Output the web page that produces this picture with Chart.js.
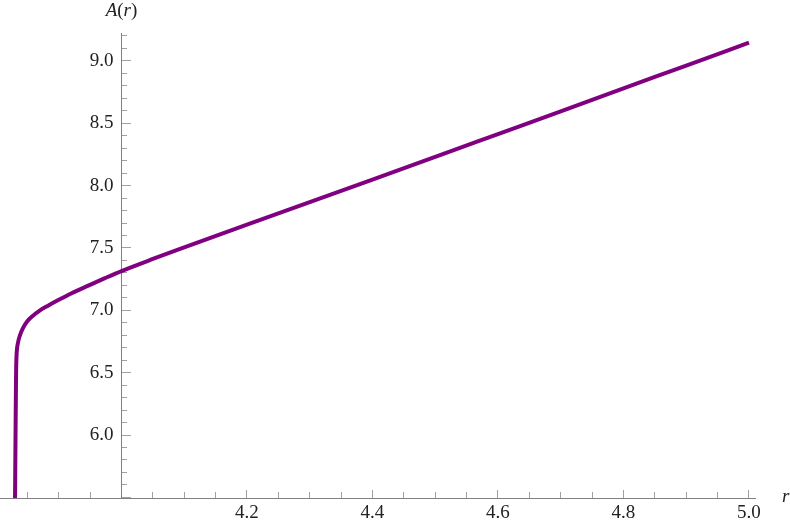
<!DOCTYPE html>
<html>
<head>
<meta charset="utf-8">
<script src="https://cdn.jsdelivr.net/npm/chart.js@4/dist/chart.umd.min.js"></script>
<style>
  html, body { margin: 0; padding: 0; background: #ffffff; }
  #wrap { width: 790px; height: 524px; }
</style>
</head>
<body>
<div id="wrap"><canvas id="c" width="790" height="524"></canvas></div>
<script>
// ---- data ----
const rValues = [3.8302, 3.8311, 3.8319, 3.8322, 3.8330, 3.8351, 3.8382, 3.8430, 3.8499, 3.8590,
                 3.8696, 3.8829, 3.8993, 3.9206, 3.9471, 3.9737, 4.0, 4.05, 4.1, 4.2,
                 4.3, 4.4, 4.5, 4.6, 4.7, 4.8, 4.9, 5.0];
const aValues = [5.40, 5.96, 6.44, 6.55, 6.66, 6.74, 6.80, 6.858, 6.912, 6.957,
                 6.998, 7.037, 7.082, 7.137, 7.198, 7.258, 7.315, 7.412, 7.505, 7.688,
                 7.868, 8.048, 8.230, 8.413, 8.596, 8.780, 8.963, 9.147];
const xRange = [3.8064, 5.0096];
const yRange = [5.495, 9.224];
const xMajorStep = 0.2, xMinorStep = 0.05;
const yMajorStep = 0.5, yMinorStep = 0.1;
const xAxisTitle = 'r';
const yAxisTitle = ['A', '(', 'r', ')'];

const serif = '"Liberation Serif", "Times New Roman", Times, serif';
const axisGray = '#808080';
const tickGray = '#a0a0a0';
const labelColor = '#222';
const fontSize = 19;

function zeroWidth(s) { s.width = 0; }
function zeroHeight(s) { s.height = 0; }

const titlePlugin = {
  id: 'axisTitles',
  afterDraw(chart) {
    const ctx = chart.ctx;
    const xs = chart.scales.x, ys = chart.scales.y;
    ctx.save();
    ctx.fillStyle = labelColor;
    ctx.textBaseline = 'middle';
    ctx.font = 'italic ' + fontSize + 'px ' + serif;
    ctx.textAlign = 'left';
    ctx.fillText(xAxisTitle, chart.chartArea.right + 27, ys.getPixelForValue(yRange[0]) - 1);
    const it = 'italic ' + fontSize + 'px ' + serif, up = fontSize + 'px ' + serif;
    const fonts = [it, up, it, up];
    let w = 0;
    const widths = yAxisTitle.map((t, i) => { ctx.font = fonts[i]; const m = ctx.measureText(t).width; w += m; return m; });
    let x = xs.getPixelForValue(4.0) - w / 2;
    const y = 11;
    yAxisTitle.forEach((t, i) => { ctx.font = fonts[i]; ctx.fillText(t, x, y); x += widths[i]; });
    ctx.restore();
  }
};

new Chart(document.getElementById('c'), {
  type: 'line',
  data: {
    datasets: [{
      data: rValues.map((r, i) => ({ x: r, y: aValues[i] })),
      borderColor: '#800080',
      borderWidth: 4,
      pointRadius: 0,
      fill: false,
      cubicInterpolationMode: 'monotone',
      clip: 0
    }]
  },
  options: {
    responsive: false,
    animation: false,
    events: [],
    layout: { padding: { left: 0, right: 35, top: 33, bottom: 26 } },
    plugins: { legend: { display: false }, tooltip: { enabled: false } },
    scales: {
      x: {
        type: 'linear', min: xRange[0], max: xRange[1],
        position: { y: yRange[0] },
        afterFit: zeroHeight,
        border: { display: true, color: axisGray, width: 1 },
        grid: { drawOnChartArea: false, drawTicks: true, tickLength: -9, color: tickGray },
        ticks: {
          stepSize: xMajorStep, includeBounds: false, autoSkip: false, maxRotation: 0,
          padding: 13, color: labelColor, font: { family: serif, size: fontSize },
          callback: (v) => Math.abs(v - 4.0) < 1e-6 ? '' : Number(v).toFixed(1)
        }
      },
      xMinor: {
        type: 'linear', axis: 'x', min: xRange[0], max: xRange[1],
        position: { y: yRange[0] },
        afterFit: zeroHeight,
        border: { display: false },
        grid: { drawOnChartArea: false, drawTicks: true, tickLength: -6, color: tickGray },
        ticks: { stepSize: xMinorStep, includeBounds: false, autoSkip: false, display: false }
      },
      y: {
        type: 'linear', min: yRange[0], max: yRange[1],
        position: { x: 4.0 },
        afterFit: zeroWidth,
        border: { display: true, color: axisGray, width: 1 },
        grid: { drawOnChartArea: false, drawTicks: true, tickLength: -10, color: tickGray },
        ticks: { stepSize: yMajorStep, includeBounds: false, autoSkip: false, display: false }
      },
      yMinor: {
        type: 'linear', axis: 'y', min: yRange[0], max: yRange[1],
        position: { x: 4.0 },
        afterFit: zeroWidth,
        border: { display: false },
        grid: { drawOnChartArea: false, drawTicks: true, tickLength: -6, color: tickGray },
        ticks: { stepSize: yMinorStep, includeBounds: false, autoSkip: false, display: false }
      },
      yLabels: {
        type: 'linear', axis: 'y', min: yRange[0], max: yRange[1],
        position: { x: 3.98725 },
        afterFit: zeroWidth,
        border: { display: false },
        grid: { display: false },
        ticks: {
          stepSize: yMajorStep, includeBounds: false, autoSkip: false,
          color: labelColor, font: { family: serif, size: fontSize },
          callback: (v) => v < 5.9 ? '' : Number(v).toFixed(1)
        }
      }
    }
  },
  plugins: [titlePlugin]
});
</script>
</body>
</html>
